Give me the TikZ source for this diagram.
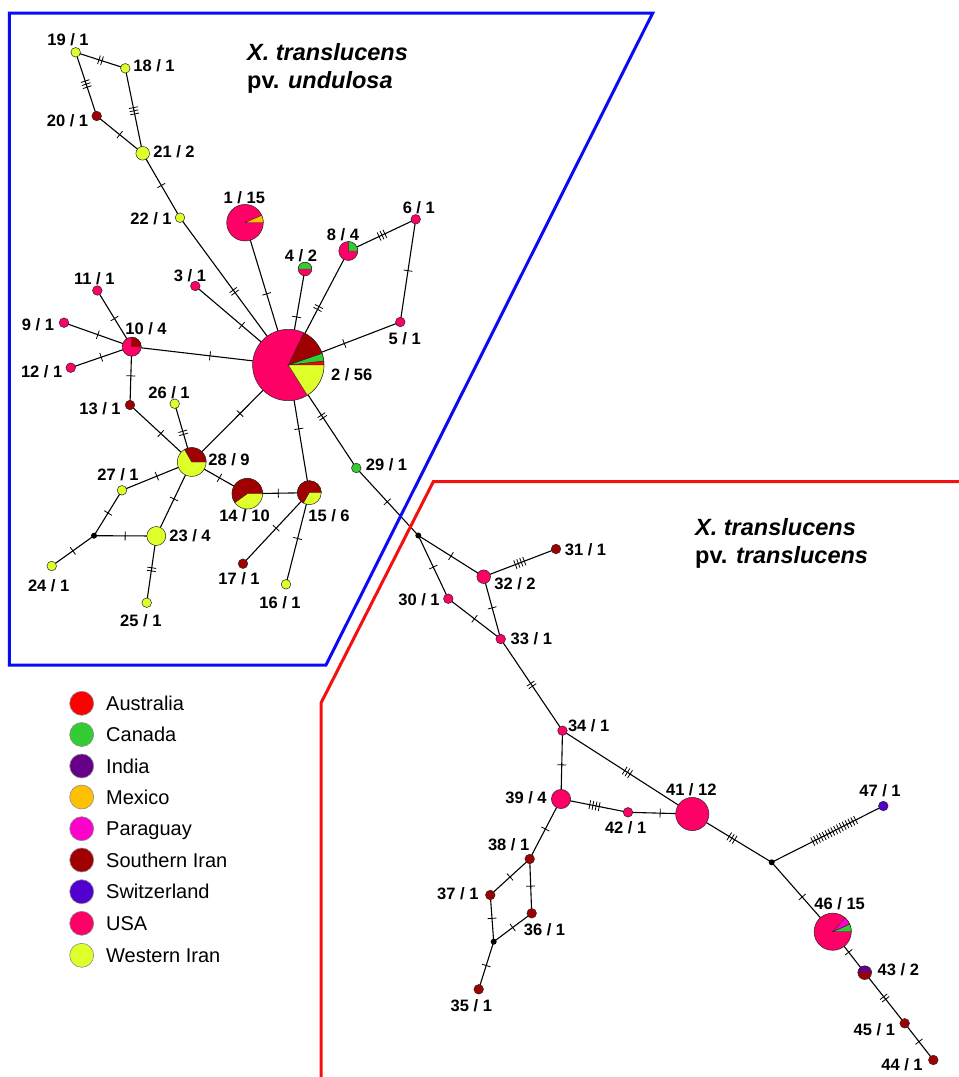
\documentclass[tikz,border=0pt]{standalone}
\usepackage{fontspec}
\setmainfont{Liberation Sans}
\usetikzlibrary{decorations.markings}
\pgfdeclarelayer{bg}
\pgfsetlayers{bg,main}
\definecolor{aus}{HTML}{FF0000}
\definecolor{can}{HTML}{33CC33}
\definecolor{ind}{HTML}{660088}
\definecolor{mex}{HTML}{FFC000}
\definecolor{par}{HTML}{FF00CC}
\definecolor{siran}{HTML}{A00000}
\definecolor{swi}{HTML}{5200D0}
\definecolor{usa}{HTML}{FF0066}
\definecolor{wiran}{HTML}{DFFF2A}
\definecolor{bluebox}{HTML}{0A0AF5}
\definecolor{redbox}{HTML}{F51010}
\newcommand\slc[5]{\filldraw[fill=#5, draw=black!85, line width=0.4pt] (#1.center) -- ++(#2:#4pt) arc[start angle=#2, end angle=#3, radius=#4pt] -- cycle;}
\tikzset{
  hap/.style={circle, draw=black!85, line width=0.5pt, inner sep=0pt, minimum size={2*#1pt}},
  hap/.default=4.8,
  junc/.style={circle, fill=black, inner sep=0pt, minimum size=6pt},
  edge/.style={line width=1.1pt, black},
  mutp/.style 2 args={postaction={decorate, decoration={markings, mark=at position #2 with {\foreach \k in {1,...,#1}{\draw[line width=0.8pt] ({(\k-(#1+1)/2)*3.2},-4.5) -- ({(\k-(#1+1)/2)*3.2},4.5);}}}}},
  mut/.style={mutp={#1}{0.5}},
  lbl/.style={inner sep=0pt, anchor=center, text height=11.8pt, text depth=0pt, font=\fontsize{16.5}{19}\selectfont\bfseries},
  ttl/.style={inner sep=0pt, anchor=base west, font=\fontsize{23.5}{28}\selectfont\bfseries},
  leg/.style={circle, draw=black!45, line width=0.6pt, inner sep=0pt, minimum size=24pt},
  legtxt/.style={inner sep=0pt, anchor=west, text height=14.3pt, text depth=0pt, font=\fontsize{20}{24}\selectfont},
  box/.style={line width=3pt, line join=miter}
}
\begin{document}
\begin{tikzpicture}[x=1pt,y=1pt]
\useasboundingbox (0,0) rectangle (959,-1077);
% group outlines
\draw[box, bluebox] (9.3,-13) -- (652.7,-13) -- (326,-665) -- (9.3,-665) -- cycle;
\draw[box, redbox] (959,-481.7) -- (433.3,-481.7) -- (321,-703) -- (321,-1077);
% titles
\node[ttl] (t1a) at (247,-60) {\itshape X. translucens};
\node[ttl] (t1b) at (247,-88) {pv. \itshape undulosa};
\node[ttl] (t2a) at (695,-535) {\itshape X. translucens};
\node[ttl] (t2b) at (695,-563) {pv. \itshape translucens};
% haplotype nodes
\node[hap=18.3, fill=usa] (n1) at (245,-222.7) {};
\slc{n1}{0}{24}{18.3}{mex}
\node[hap=35.7, fill=usa] (n2) at (288.3,-365) {};
\slc{n2}{0}{6.43}{35.7}{aus}
\slc{n2}{6.43}{19.29}{35.7}{can}
\slc{n2}{19.29}{64.29}{35.7}{siran}
\slc{n2}{302.14}{360}{35.7}{wiran}
\node[hap, fill=usa] (n3) at (195.3,-286) {};
\node[hap=6.8, fill=usa] (n4) at (305,-269) {};
\slc{n4}{0}{180}{6.8}{can}
\node[hap, fill=usa] (n5) at (400.3,-322) {};
\node[hap, fill=usa] (n6) at (415.7,-219.3) {};
\node[hap=9.5, fill=usa] (n8) at (348.3,-251) {};
\slc{n8}{0}{90}{9.5}{can}
\node[hap, fill=usa] (n9) at (64,-322.7) {};
\node[hap=9.5, fill=usa] (n10) at (131.7,-346.7) {};
\slc{n10}{0}{90}{9.5}{siran}
\node[hap, fill=usa] (n11) at (97.3,-290.5) {};
\node[hap, fill=usa] (n12) at (70.7,-367.7) {};
\node[hap, fill=siran] (n13) at (130,-405) {};
\node[hap=15.3, fill=wiran] (n14) at (247.3,-493.7) {};
\slc{n14}{0}{216}{15.3}{siran}
\node[hap=12, fill=wiran] (n15) at (309.3,-492.7) {};
\slc{n15}{0}{240}{12}{siran}
\node[hap, fill=wiran] (n16) at (286,-584.3) {};
\node[hap, fill=siran] (n17) at (243,-563.7) {};
\node[hap, fill=wiran] (n18) at (125.3,-68.3) {};
\node[hap, fill=wiran] (n19) at (75.7,-52.3) {};
\node[hap, fill=siran] (n20) at (96.7,-116) {};
\node[hap=6.8, fill=wiran] (n21) at (142.7,-153.3) {};
\node[hap, fill=wiran] (n22) at (180,-217.7) {};
\node[hap=9.5, fill=wiran] (n23) at (156.3,-536) {};
\node[hap, fill=wiran] (n24) at (51.7,-566) {};
\node[hap, fill=wiran] (n25) at (146.7,-602.7) {};
\node[hap, fill=wiran] (n26) at (174.7,-403.7) {};
\node[hap, fill=wiran] (n27) at (122,-490.3) {};
\node[hap=14.4, fill=wiran] (n28) at (191.7,-462) {};
\slc{n28}{0}{120}{14.4}{siran}
\node[hap, fill=can] (n29) at (356.3,-468) {};
\node[junc] (jA) at (94,-535.7) {};
\node[junc] (jB) at (418.3,-535.5) {};
\node[hap, fill=usa] (n30) at (448.3,-598.7) {};
\node[hap, fill=siran] (n31) at (556,-549) {};
\node[hap=6.8, fill=usa] (n32) at (483.7,-576.7) {};
\node[hap, fill=usa] (n33) at (500.7,-639) {};
\node[hap, fill=usa] (n34) at (562.5,-730.7) {};
\node[hap, fill=siran] (n35) at (478.7,-989.3) {};
\node[hap, fill=siran] (n36) at (531.7,-913.3) {};
\node[hap, fill=siran] (n37) at (490.3,-895) {};
\node[hap, fill=siran] (n38) at (529.7,-859) {};
\node[junc] (jD) at (493.7,-941.7) {};
\node[hap=9.6, fill=usa] (n39) at (561,-799) {};
\node[hap=16.6, fill=usa] (n41) at (692.3,-814) {};
\node[hap, fill=usa] (n42) at (628,-812.3) {};
\node[junc] (jC) at (771.7,-862.3) {};
\node[hap=6.8, fill=siran] (n43) at (864.7,-972.7) {};
\slc{n43}{0}{180}{6.8}{ind}
\node[hap, fill=siran] (n44) at (933.3,-1060) {};
\node[hap, fill=siran] (n45) at (904.7,-1023.3) {};
\node[hap=18.6, fill=usa] (n46) at (832.7,-931.7) {};
\slc{n46}{0}{24}{18.6}{can}
\slc{n46}{24}{48}{18.6}{par}
\node[hap, fill=swi] (n47) at (883.3,-806) {};
% connectors
\begin{pgfonlayer}{bg}
\draw[edge, mut=2] (n19.center) -- (n18.center);
\draw[edge, mut=3] (n19.center) -- (n20.center);
\draw[edge, mut=3] (n18.center) -- (n21.center);
\draw[edge, mut=1] (n20.center) -- (n21.center);
\draw[edge, mut=1] (n21.center) -- (n22.center);
\draw[edge, mut=2] (n22.center) -- (n2.center);
\draw[edge, mut=1] (n1.center) -- (n2.center);
\draw[edge, mut=1] (n3.center) -- (n2.center);
\draw[edge, mut=1] (n4.center) -- (n2.center);
\draw[edge, mut=2] (n8.center) -- (n2.center);
\draw[edge, mut=3] (n8.center) -- (n6.center);
\draw[edge, mut=1] (n6.center) -- (n5.center);
\draw[edge, mut=1] (n5.center) -- (n2.center);
\draw[edge, mut=1] (n10.center) -- (n2.center);
\draw[edge, mut=1] (n11.center) -- (n10.center);
\draw[edge, mut=1] (n9.center) -- (n10.center);
\draw[edge, mut=1] (n12.center) -- (n10.center);
\draw[edge, mut=1] (n10.center) -- (n13.center);
\draw[edge, mut=1] (n13.center) -- (n28.center);
\draw[edge, mut=2] (n26.center) -- (n28.center);
\draw[edge, mut=1] (n28.center) -- (n2.center);
\draw[edge, mut=1] (n2.center) -- (n15.center);
\draw[edge, mut=2] (n2.center) -- (n29.center);
\draw[edge, mut=1] (n29.center) -- (jB.center);
\draw[edge, mut=1] (n28.center) -- (n14.center);
\draw[edge, mut=1] (n14.center) -- (n15.center);
\draw[edge, mut=1] (n28.center) -- (n27.center);
\draw[edge, mut=1] (n28.center) -- (n23.center);
\draw[edge, mut=1] (n27.center) -- (jA.center);
\draw[edge, mut=1] (jA.center) -- (n23.center);
\draw[edge, mut=1] (jA.center) -- (n24.center);
\draw[edge, mut=2] (n23.center) -- (n25.center);
\draw[edge, mut=1] (n15.center) -- (n17.center);
\draw[edge, mut=1] (n15.center) -- (n16.center);
\draw[edge, mut=1] (jB.center) -- (n30.center);
\draw[edge, mut=1] (jB.center) -- (n32.center);
\draw[edge, mut=4] (n32.center) -- (n31.center);
\draw[edge, mut=1] (n32.center) -- (n33.center);
\draw[edge, mut=1] (n30.center) -- (n33.center);
\draw[edge, mut=2] (n33.center) -- (n34.center);
\draw[edge, mut=1] (n34.center) -- (n39.center);
\draw[edge, mut=3] (n34.center) -- (n41.center);
\draw[edge, mut=4] (n39.center) -- (n42.center);
\draw[edge, mut=1] (n42.center) -- (n41.center);
\draw[edge, mut=1] (n39.center) -- (n38.center);
\draw[edge, mut=1] (n38.center) -- (n37.center);
\draw[edge, mut=1] (n38.center) -- (n36.center);
\draw[edge, mut=1] (n37.center) -- (jD.center);
\draw[edge, mut=1] (n36.center) -- (jD.center);
\draw[edge, mut=1] (jD.center) -- (n35.center);
\draw[edge, mut=3] (n41.center) -- (jC.center);
\draw[edge, mutp={16}{0.56}] (jC.center) -- (n47.center);
\draw[edge, mut=1] (jC.center) -- (n46.center);
\draw[edge, mut=1] (n46.center) -- (n43.center);
\draw[edge, mut=2] (n43.center) -- (n45.center);
\draw[edge, mut=1] (n45.center) -- (n44.center);
\end{pgfonlayer}
% labels
\node[lbl] (l19) at (68,-40) {19 / 1};
\node[lbl] (l18) at (154,-66) {18 / 1};
\node[lbl] (l20) at (67.5,-120.7) {20 / 1};
\node[lbl] (l21) at (174,-152) {21 / 2};
\node[lbl] (l22) at (151,-219) {22 / 1};
\node[lbl] (l1) at (244.3,-197.3) {1 / 15};
\node[lbl] (l4) at (301,-256) {4 / 2};
\node[lbl] (l3) at (190,-275.7) {3 / 1};
\node[lbl] (l11) at (94.3,-278.3) {11 / 1};
\node[lbl] (l8) at (343,-234.3) {8 / 4};
\node[lbl] (l6) at (418.8,-207.3) {6 / 1};
\node[lbl] (l9) at (38,-325) {9 / 1};
\node[lbl] (l10) at (146,-329) {10 / 4};
\node[lbl] (l12) at (41.7,-371.7) {12 / 1};
\node[lbl] (l5) at (404.7,-339) {5 / 1};
\node[lbl] (l2) at (351.7,-375) {2 / 56};
\node[lbl] (l13) at (100,-408.3) {13 / 1};
\node[lbl] (l26) at (169,-392.7) {26 / 1};
\node[lbl] (l28) at (229,-459.3) {28 / 9};
\node[lbl] (l29) at (386.5,-465) {29 / 1};
\node[lbl] (l27) at (118,-475) {27 / 1};
\node[lbl] (l14) at (244.5,-516) {14 / 10};
\node[lbl] (l15) at (329,-516) {15 / 6};
\node[lbl] (l23) at (190,-535.7) {23 / 4};
\node[lbl] (l24) at (48.7,-586) {24 / 1};
\node[lbl] (l25) at (140.8,-620.7) {25 / 1};
\node[lbl] (l17) at (239,-578.3) {17 / 1};
\node[lbl] (l16) at (280,-602.3) {16 / 1};
\node[lbl] (l30) at (419,-600) {30 / 1};
\node[lbl] (l31) at (585.5,-550) {31 / 1};
\node[lbl] (l32) at (515,-583.3) {32 / 2};
\node[lbl] (l33) at (531.3,-638.3) {33 / 1};
\node[lbl] (l34) at (588.7,-725.7) {34 / 1};
\node[lbl] (l39) at (526,-797.7) {39 / 4};
\node[lbl] (l42) at (625.7,-827.7) {42 / 1};
\node[lbl] (l41) at (691.3,-789.3) {41 / 12};
\node[lbl] (l47) at (880,-790.7) {47 / 1};
\node[lbl] (l38) at (508.7,-844.3) {38 / 1};
\node[lbl] (l37) at (457.8,-894) {37 / 1};
\node[lbl] (l36) at (544.5,-930) {36 / 1};
\node[lbl] (l35) at (471.3,-1006) {35 / 1};
\node[lbl] (l46) at (839.7,-904) {46 / 15};
\node[lbl] (l43) at (898.3,-969.3) {43 / 2};
\node[lbl] (l45) at (874.3,-1029.3) {45 / 1};
\node[lbl] (l44) at (902,-1064.3) {44 / 1};
% legend
\node[leg, fill=aus] (c1) at (81.7,-703.3) {};
\node[legtxt] (g1) at (106,-703.3) {Australia};
\node[leg, fill=can] (c2) at (81.7,-734.5) {};
\node[legtxt] (g2) at (106,-734.5) {Canada};
\node[leg, fill=ind] (c3) at (81.7,-766) {};
\node[legtxt] (g3) at (106,-766) {India};
\node[leg, fill=mex] (c4) at (81.7,-797) {};
\node[legtxt] (g4) at (106,-797) {Mexico};
\node[leg, fill=par] (c5) at (81.7,-828.7) {};
\node[legtxt] (g5) at (106,-828.7) {Paraguay};
\node[leg, fill=siran] (c6) at (81.7,-860) {};
\node[legtxt] (g6) at (106,-860) {Southern Iran};
\node[leg, fill=swi] (c7) at (81.7,-891.7) {};
\node[legtxt] (g7) at (106,-891.7) {Switzerland};
\node[leg, fill=usa] (c8) at (81.7,-923.3) {};
\node[legtxt] (g8) at (106,-923.3) {USA};
\node[leg, fill=wiran] (c9) at (81.7,-955.3) {};
\node[legtxt] (g9) at (106,-955.3) {Western Iran};
\end{tikzpicture}
\end{document}
